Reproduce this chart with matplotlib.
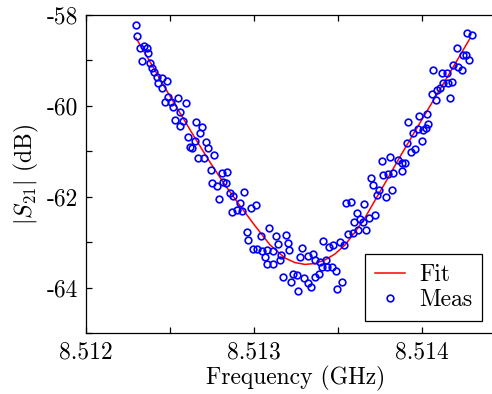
import matplotlib
matplotlib.use('Agg')
import matplotlib.pyplot as plt
from matplotlib.ticker import MultipleLocator

plt.rcParams['font.family'] = 'serif'
plt.rcParams['font.serif'] = ['cmr10']
plt.rcParams['mathtext.fontset'] = 'cm'
plt.rcParams['axes.unicode_minus'] = False
plt.rcParams['axes.formatter.use_mathtext'] = True

# measured |S21| (dB) vs frequency (GHz)
meas_f = [8.512298, 8.512305, 8.512321, 8.512347, 8.512361, 8.512371, 8.512332, 8.512381,
          8.512391, 8.512407, 8.512421, 8.512451, 8.512480, 8.512430, 8.512451, 8.512490,
          8.512546, 8.512470, 8.512506, 8.512520, 8.512595, 8.512560, 8.512530, 8.512579,
          8.512560, 8.512655, 8.512689, 8.512679, 8.512605, 8.512649, 8.512714, 8.512619,
          8.512629, 8.512728, 8.512764, 8.512665, 8.512704, 8.512742, 8.512808, 8.512841,
          8.512752, 8.512778, 8.512817, 8.512832, 8.512792, 8.512857, 8.512877, 8.512940,
          8.512917, 8.512867, 8.512897, 8.512927, 8.512980, 8.513012, 8.512957, 8.512966,
          8.513042, 8.513088, 8.512992, 8.513020, 8.513046, 8.513079, 8.513111, 8.513065,
          8.513079, 8.513111, 8.513129, 8.513189, 8.513141, 8.513201, 8.513208, 8.513155,
          8.513161, 8.513274, 8.513284, 8.513320, 8.513349, 8.513363, 8.513393, 8.513429,
          8.513407, 8.513433, 8.513463, 8.513488, 8.513413, 8.513446, 8.513472, 8.513512,
          8.513538, 8.513558, 8.513588, 8.513597, 8.513611, 8.513548, 8.513577, 8.513174,
          8.513234, 8.513254, 8.513220, 8.513299, 8.513320, 8.513339, 8.513363, 8.513387,
          8.513260, 8.513522, 8.513492, 8.513621, 8.513667, 8.513631, 8.513651, 8.513686,
          8.513720, 8.513657, 8.513730, 8.513746, 8.513786, 8.513820, 8.513707, 8.513696,
          8.513770, 8.513799, 8.513829, 8.513760, 8.513810, 8.513859, 8.513879, 8.513899,
          8.513879, 8.513909, 8.513935, 8.513958, 8.513945, 8.513978, 8.513998, 8.513918,
          8.513984, 8.514008, 8.514024, 8.514038, 8.514032, 8.514058, 8.514083, 8.514167,
          8.514091, 8.514107, 8.514127, 8.514157, 8.514177, 8.514067, 8.514117, 8.514147,
          8.514186, 8.514216, 8.514236, 8.514246, 8.514262, 8.514282, 8.514207, 8.514266,
          8.514296]
meas_db = [-58.22, -58.46, -58.72, -58.68, -58.72, -58.84, -59.01, -59.05,
           -59.17, -59.26, -59.36, -59.38, -59.45, -59.49, -59.61, -59.80,
           -59.82, -59.92, -59.92, -60.02, -59.94, -60.14, -60.31, -60.33,
           -60.44, -60.35, -60.46, -60.60, -60.69, -60.77, -60.79, -60.90,
           -60.92, -60.93, -61.08, -61.14, -61.14, -61.41, -61.48, -61.45,
           -61.70, -61.76, -61.67, -61.69, -62.05, -61.92, -61.98, -61.90,
           -62.13, -62.33, -62.29, -62.31, -62.25, -62.18, -62.77, -62.95,
           -62.86, -62.69, -63.16, -63.15, -63.19, -63.17, -63.19, -63.32,
           -63.47, -63.47, -62.86, -62.84, -63.05, -63.02, -63.17, -63.39,
           -63.28, -63.32, -63.13, -63.30, -63.26, -63.39, -63.43, -63.39,
           -63.55, -63.55, -63.55, -63.63, -62.97, -63.11, -63.06, -62.99,
           -63.06, -62.83, -62.80, -62.55, -62.36, -62.14, -62.11, -63.76,
           -63.70, -63.72, -63.88, -63.80, -63.91, -63.98, -63.76, -63.71,
           -64.07, -63.88, -64.04, -62.73, -62.73, -62.50, -62.55, -62.47,
           -62.40, -62.17, -61.96, -61.85, -62.01, -61.85, -61.74, -61.58,
           -61.52, -61.50, -61.47, -61.21, -61.12, -61.19, -61.26, -61.25,
           -61.43, -60.81, -61.01, -60.96, -60.59, -60.52, -60.77, -60.35,
           -60.22, -60.53, -60.49, -60.40, -60.18, -59.74, -59.87, -59.82,
           -59.65, -59.61, -59.50, -59.50, -59.47, -59.21, -59.27, -59.28,
           -59.09, -59.14, -59.21, -58.88, -58.88, -58.99, -58.73, -58.39,
           -58.44]

# fitted curve
fit_f = [8.512298, 8.512381, 8.512470, 8.512560, 8.512649, 8.512738, 8.512827,
         8.512917, 8.513006, 8.513095, 8.513185, 8.513244, 8.513304, 8.513363,
         8.513423, 8.513482, 8.513542, 8.513601, 8.513661, 8.513720, 8.513780,
         8.513869, 8.513958, 8.514048, 8.514137, 8.514226, 8.514286]
fit_db = [-58.51, -59.03, -59.60, -60.16, -60.71, -61.24, -61.74,
          -62.20, -62.64, -63.06, -63.35, -63.45, -63.49, -63.47,
          -63.39, -63.26, -63.06, -62.78, -62.46, -62.08, -61.70,
          -61.12, -60.56, -60.00, -59.45, -58.89, -58.51]

xticks = [8.512, 8.513, 8.514]
xticklabels = ['8.512', '8.513', '8.514']
yticks = [-64, -62, -60, -58]
yticklabels = ['-64', '-62', '-60', '-58']

fig = plt.figure(figsize=(4.92, 3.94), dpi=100)
ax = fig.add_axes([0.1748, 0.1548, 0.8537, 0.8071])

ax.plot(fit_f, fit_db, '-', color='#ff0000', lw=1.1, label='Fit')
ax.plot(meas_f, meas_db, 'o', mfc='none', mec='#0000ff', ms=4.8, mew=1.2, label='Meas')

ax.set_xlim(8.512, 8.5145)
ax.set_ylim(-65, -58)
ax.set_xticks(xticks)
ax.set_xticklabels(xticklabels)
ax.set_yticks(yticks)
ax.set_yticklabels(yticklabels)
ax.xaxis.set_minor_locator(MultipleLocator(0.0005))
ax.yaxis.set_minor_locator(MultipleLocator(1))
ax.tick_params(which='both', direction='in', top=True, right=True,
               labelsize=17, pad=6, width=0.9)
ax.tick_params(which='major', length=4.5)
ax.tick_params(which='minor', length=4.5)
for s in ax.spines.values():
    s.set_linewidth(0.9)

ax.set_xlabel('Frequency (GHz)', fontsize=17, labelpad=2)
ax.set_ylabel(r'$|S_{21}|$ (dB)', fontsize=17, labelpad=4)

leg = ax.legend(loc='lower right', bbox_to_anchor=(0.943, 0.038), fontsize=17,
                frameon=True, fancybox=False, edgecolor='black', framealpha=1,
                numpoints=1, handlelength=1.3, borderpad=0.4, labelspacing=0.15,
                handletextpad=0.6, borderaxespad=0)
leg.get_frame().set_linewidth(0.9)

fig.savefig('out.png', dpi=100)
